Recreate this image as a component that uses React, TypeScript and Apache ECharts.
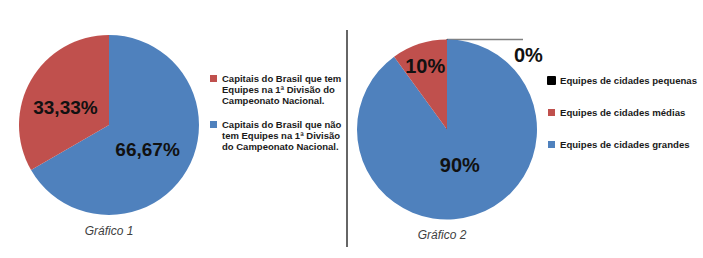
import React, { useEffect, useRef } from "react";
import * as echarts from "echarts";

const FONT = "'Liberation Sans', Arial, sans-serif";

// Gráfico 1 (drawn clockwise from 12 o'clock)
const pie1Categories = [
  "Capitais do Brasil que não\ntem Equipes na 1ª Divisão\ndo Campeonato Nacional.",
  "Capitais do Brasil que tem\nEquipes na 1ª Divisão do\nCampeonato Nacional.",
];
const pie1Values = [66.67, 33.33];
const pie1Colors = ["#4f81bd", "#c0504d"];
const legend1Order = [pie1Categories[1], pie1Categories[0]];

// Gráfico 2 (drawn clockwise from 12 o'clock)
const pie2Categories = [
  "Equipes de cidades pequenas",
  "Equipes de cidades grandes",
  "Equipes de cidades médias",
];
const pie2Values = [0, 90, 10];
const pie2Colors = ["#000000", "#4f81bd", "#c0504d"];
const legend2Order = [pie2Categories[0], pie2Categories[2], pie2Categories[1]];

const titles = ["Gráfico 1", "Gráfico 2"];

export default function App() {
  const ref = useRef<HTMLDivElement>(null);

  useEffect(() => {
    document.body.style.margin = "0";
    const chart = echarts.init(ref.current as HTMLDivElement, null, { renderer: "svg" });

    const labelBase = {
      fontFamily: FONT,
      fontWeight: "bold" as const,
      color: "#111111",
    };

    chart.setOption({
      animation: false,
      legend: [
        {
          orient: "vertical",
          left: 210,
          top: 51,
          padding: 0,
          itemGap: -9,
          itemWidth: 7,
          itemHeight: 7,
          icon: "rect",
          selectedMode: false,
          data: legend1Order,
          formatter: (name: string) => "\n\n" + name,
          textStyle: {
            fontFamily: FONT,
            fontWeight: "bold",
            fontSize: 9.5,
            lineHeight: 11,
            color: "#1a1a1a",
          },
        },
        {
          orient: "vertical",
          left: 547,
          top: 74,
          padding: 0,
          itemGap: 19,
          itemWidth: 7,
          itemHeight: 7,
          icon: "rect",
          selectedMode: false,
          data: legend2Order,
          textStyle: {
            fontFamily: FONT,
            fontWeight: "bold",
            fontSize: 9.6,
            lineHeight: 13,
            color: "#1a1a1a",
          },
        },
      ],
      graphic: [
        {
          type: "line",
          shape: { x1: 347, y1: 30, x2: 347, y2: 247 },
          style: { stroke: "#333333", lineWidth: 1.5 },
        },
        {
          type: "text",
          x: 109,
          y: 231,
          style: {
            text: titles[0],
            align: "center",
            verticalAlign: "middle",
            fontFamily: FONT,
            fontStyle: "italic",
            fontSize: 12,
            fill: "#404040",
          },
        },
        {
          type: "text",
          x: 442,
          y: 235,
          style: {
            text: titles[1],
            align: "center",
            verticalAlign: "middle",
            fontFamily: FONT,
            fontStyle: "italic",
            fontSize: 12,
            fill: "#404040",
          },
        },
      ],
      series: [
        {
          type: "pie",
          center: [109, 125],
          radius: 90,
          startAngle: 90,
          clockwise: true,
          avoidLabelOverlap: false,
          emphasis: { disabled: true },
          itemStyle: { borderWidth: 0 },
          label: {
            ...labelBase,
            show: true,
            position: "inside",
            fontSize: 19,
            formatter: (p: any) => Number(p.value).toFixed(2).replace(".", ",") + "%",
          },
          labelLine: { show: false },
          labelLayout: (params: any) => {
            if (params.dataIndex === 0) return { dx: -3, dy: 0 };
            if (params.dataIndex === 1) return { dx: -2, dy: 7 };
            return undefined;
          },
          data: pie1Categories.map((name, i) => ({
            name,
            value: pie1Values[i],
            itemStyle: { color: pie1Colors[i] },
          })),
        },
        {
          type: "pie",
          center: [447, 129.5],
          radius: 90,
          startAngle: 89.999,
          clockwise: true,
          avoidLabelOverlap: false,
          emphasis: { disabled: true },
          label: {
            ...labelBase,
            show: true,
            position: "inside",
            fontSize: 20,
            formatter: (p: any) => p.value + "%",
          },
          labelLine: { show: false },
          labelLayout: (params: any) => {
            if (params.dataIndex === 2) return { dx: -7, dy: -18 };
            if (params.dataIndex === 1) return { dx: -2, dy: -10 };
            return undefined;
          },
          data: pie2Categories.map((name, i) => {
            const item: any = {
              name,
              value: pie2Values[i],
              itemStyle: { color: pie2Colors[i] },
            };
            if (pie2Values[i] === 0) {
              item.itemStyle = { color: pie2Colors[i], borderColor: "#000", borderWidth: 1 };
              item.label = {
                position: "outside",
                formatter: "\n{c}%",
                lineHeight: 30,
                distanceToLabelLine: -9,
              };
              item.labelLine = {
                show: true,
                length: 0,
                length2: 76,
                lineStyle: { color: "#808080", width: 1.5 },
              };
            }
            return item;
          }),
        },
      ],
    });

    return () => chart.dispose();
  }, []);

  return <div ref={ref} style={{ width: 703, height: 258 }} />;
}
